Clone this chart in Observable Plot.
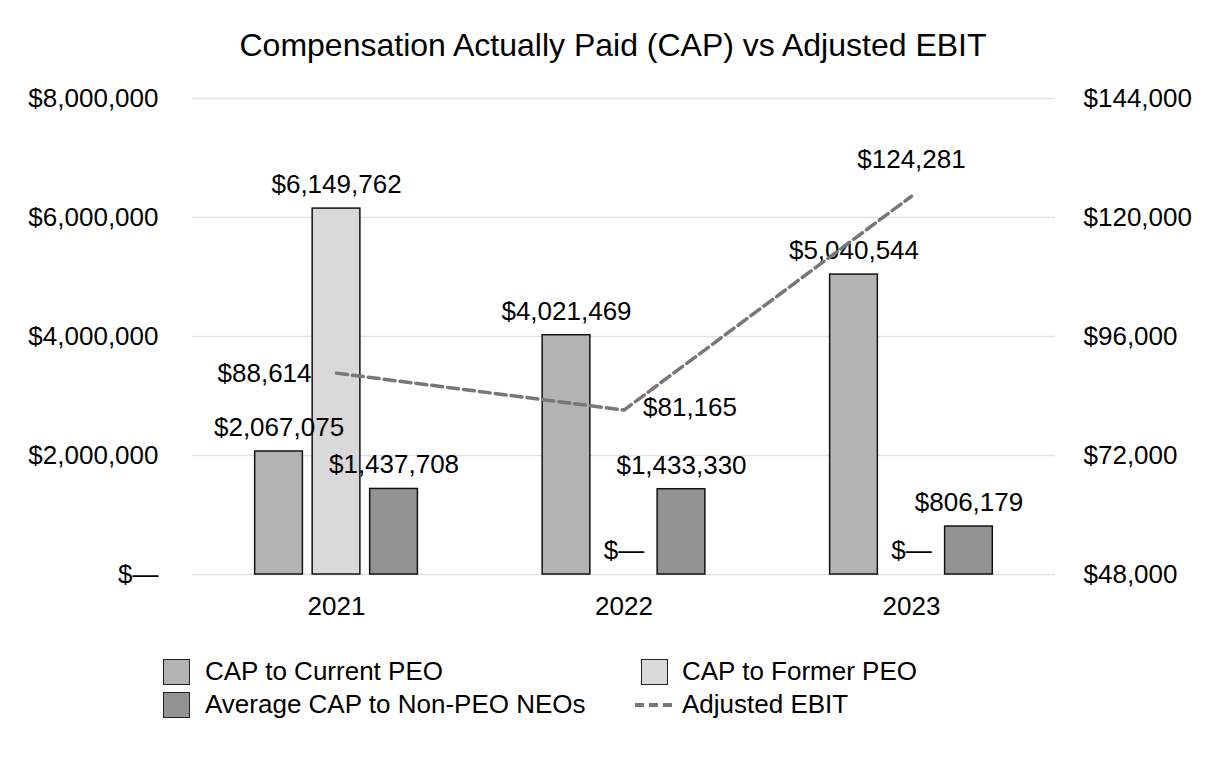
<!DOCTYPE html>
<html><head><meta charset="utf-8">
<script src="https://cdn.jsdelivr.net/npm/d3@7"></script>
<script src="https://cdn.jsdelivr.net/npm/@observablehq/plot@0.6"></script>
<style>
body{margin:0;background:#fff;font-family:"Liberation Sans",Arial,sans-serif;color:#000;width:1226px;}
#title{height:60px;padding-top:15px;line-height:60px;text-align:center;font-size:32px;}
#legend{position:relative;height:110px;font-size:26px;}
.item{position:absolute;display:flex;align-items:center;height:33px;white-space:nowrap;}
.sw{box-sizing:border-box;width:27px;height:26px;border:1.5px solid #222;}
</style></head><body>
<div id="title">Compensation Actually Paid (CAP) vs Adjusted EBIT</div>
<div id="chart"></div>
<div id="legend"></div>
<script>
const years = ["2021", "2022", "2023"];
const series = ["CAP to Current PEO", "CAP to Former PEO", "Average CAP to Non-PEO NEOs"];
const currentPEO = [2067075, 4021469, 5040544];
const formerPEO = [6149762, 0, 0];
const nonPEO = [1437708, 1433330, 806179];
const ebitName = "Adjusted EBIT";
const ebit = [88614, 81165, 124281];
const leftTicks = [0, 2000000, 4000000, 6000000, 8000000];
const rightTicks = [48000, 72000, 96000, 120000, 144000];
const colors = ["#b3b3b3", "#d9d9d9", "#939393"];
const lineColor = "#777777";

const fmt = d3.format(",");
const money = v => v === 0 ? "$\u2014" : "$" + fmt(v);
const seriesValues = [currentPEO, formerPEO, nonPEO];

// slot domain: spacer, three series, spacer for each year
const slotKey = (y, s) => y + "|" + s;
const domain = [];
years.forEach(y => {
  domain.push(y + "|gapA");
  series.forEach(s => domain.push(slotKey(y, s)));
  domain.push(y + "|gapB");
});
const rows = [];
years.forEach((y, i) => series.forEach((s, j) => rows.push({year: y, series: s, value: seriesValues[j][i], slot: slotKey(y, s)})));
const midSlots = years.map(y => slotKey(y, series[1]));

// map EBIT (right axis) onto left-axis units
const toLeft = d3.scaleLinear().domain([rightTicks[0], rightTicks[rightTicks.length - 1]]).range([leftTicks[0], leftTicks[leftTicks.length - 1]]);
const ebitRows = years.map((y, i) => ({year: y, value: ebit[i], y: toLeft(ebit[i]), slot: slotKey(y, series[1])}));

const font = "Liberation Sans, Arial, sans-serif";
const chart = Plot.plot({
  width: 1226,
  height: 565,
  marginTop: 23,
  marginBottom: 66,
  marginLeft: 192,
  marginRight: 171,
  style: {fontFamily: font, fontSize: "26px", color: "#000", background: "#fff", overflow: "visible"},
  x: {type: "band", domain, paddingInner: 0.17, paddingOuter: 0.09, round: false, label: null},
  y: {domain: [leftTicks[0], leftTicks[leftTicks.length - 1]], label: null},
  color: {domain: series, range: colors},
  marks: [
    Plot.gridY(leftTicks, {stroke: "#e2e2e2", strokeOpacity: 1, strokeWidth: 1.5}),
    Plot.axisY(leftTicks, {anchor: "left", tickSize: 0, tickPadding: 34, tickFormat: money, fontSize: 26, label: null}),
    Plot.axisY(rightTicks.map(toLeft), {anchor: "right", tickSize: 0, tickPadding: 28, fontSize: 26, label: null,
      tickFormat: d => "$" + fmt(Math.round(toLeft.invert(d)))}),
    Plot.axisX(midSlots, {tickSize: 0, tickPadding: 22, fontSize: 26, label: null, tickFormat: d => d.split("|")[0]}),
    Plot.barY(rows.filter(d => d.value > 0), {x: "slot", y: "value", fill: "series", stroke: "#111", strokeWidth: 1.5}),
    Plot.text(rows, {x: "slot", y: "value", text: d => money(d.value), dy: -24, fontSize: 26, fill: "#000"}),
    Plot.line(ebitRows, {x: "slot", y: "y", stroke: lineColor, strokeWidth: 3.5, strokeDasharray: "11,5"}),
    Plot.text(ebitRows.slice(0, 1), {x: "slot", y: "y", text: d => money(d.value), textAnchor: "end", dx: -25, dy: 1, fontSize: 26, fill: "#000"}),
    Plot.text(ebitRows.slice(1, 2), {x: "slot", y: "y", text: d => money(d.value), textAnchor: "start", dx: 19, dy: -2, fontSize: 26, fill: "#000"}),
    Plot.text(ebitRows.slice(2, 3), {x: "slot", y: "y", text: d => money(d.value), dy: -37, fontSize: 26, fill: "#000"})
  ]
});
document.getElementById("chart").appendChild(chart);

// legend
const legend = document.getElementById("legend");
function addItem(left, top, swatchHtml, gap, label) {
  const el = document.createElement("div");
  el.className = "item";
  el.style.left = left + "px";
  el.style.top = top + "px";
  el.innerHTML = swatchHtml + `<span style="margin-left:${gap}px">${label}</span>`;
  legend.appendChild(el);
}
const box = c => `<div class="sw" style="background:${c}"></div>`;
addItem(163, 15, box(colors[0]), 15, series[0]);
addItem(163, 48, box(colors[2]), 15, series[2]);
addItem(641, 15, box(colors[1]), 14, series[1]);
addItem(635, 48, `<svg width="38" height="10" style="display:block"><line x1="0" y1="5" x2="38" y2="5" stroke="${lineColor}" stroke-width="4" stroke-dasharray="9,5"/></svg>`, 9, ebitName);
</script>
</body></html>
